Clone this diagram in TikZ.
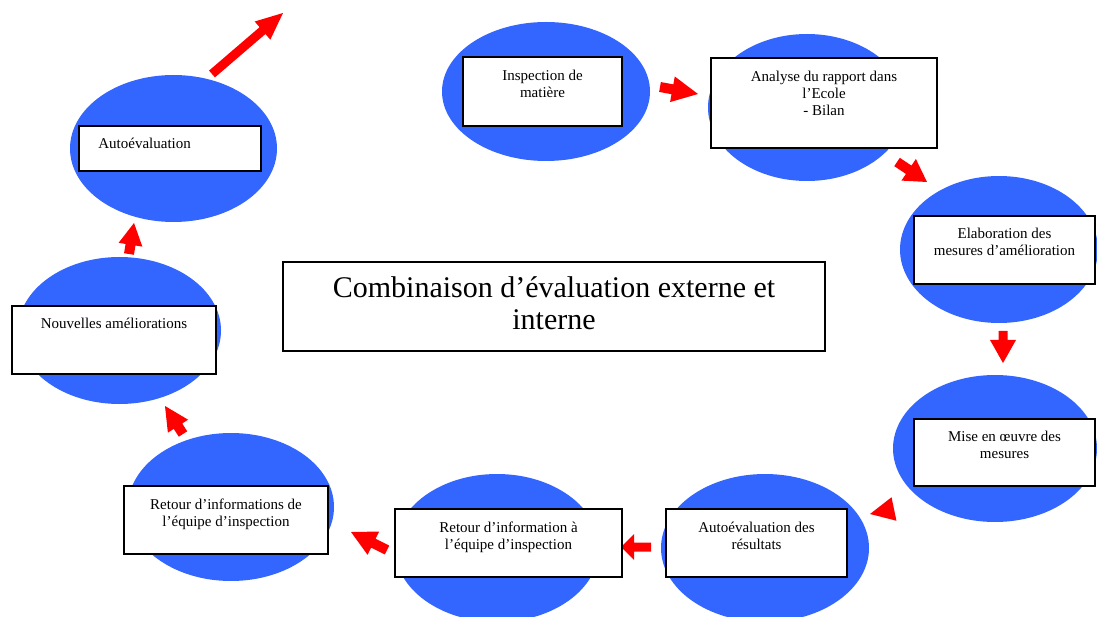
\documentclass[tikz,border=0pt]{standalone}
\usepackage{fontspec}
\setmainfont{Liberation Serif}
\usetikzlibrary{shapes.geometric}
\definecolor{ellblue}{RGB}{51,102,255}
\definecolor{arrowred}{RGB}{255,0,0}
% block arrow: x1 y1 (tail) x2 y2 (tip) shaft-half head-half head-length
\newcommand\blockarrow[7]{%
  \pgfmathsetmacro\baA{atan2(#4-#2,#3-#1)}%
  \pgfmathsetmacro\baT{veclen(#3-#1,#4-#2)}%
  \pgfmathsetmacro\baL{\baT-#7}%
  \begin{scope}[shift={(#1,#2)},rotate=-\baA]
    \fill[arrowred] (0,-#5) -- (\baL,-#5) -- (\baL,-#6) -- (\baT,0) -- (\baL,#6) -- (\baL,#5) -- (0,#5) -- cycle;
  \end{scope}}
\tikzset{
  ell/.style={ellipse, fill=ellblue, draw=none, inner sep=0pt},
  box/.style={rectangle, draw=black, line width=1.6pt, fill=white, inner sep=0pt},
  lbl/.style={inner sep=0pt, align=center, font=\fontsize{15}{17}\selectfont, text=black},
  biglbl/.style={inner sep=0pt, align=center, font=\fontsize{30}{32}\selectfont, text=black}
}
\begin{document}
\begin{tikzpicture}[x=1pt,y=-1pt]
\useasboundingbox (0,0) rectangle (1097,617);
% ellipses
\node[ell, minimum width=208, minimum height=139] (e1) at (546,91.5) {};
\node[ell, minimum width=198, minimum height=147] (e2) at (807,107.5) {};
\node[ell, minimum width=198, minimum height=147] (e3) at (999,249.5) {};
\node[ell, minimum width=204, minimum height=147] (e4) at (995,448.5) {};
\node[ell, minimum width=208, minimum height=148] (e5) at (765,548) {};
\node[ell, minimum width=204, minimum height=148] (e6) at (497,548) {};
\node[ell, minimum width=206, minimum height=148] (e7) at (231,507) {};
\node[ell, minimum width=203, minimum height=147] (e8) at (119.5,330.5) {};
\node[ell, minimum width=207, minimum height=147] (e9) at (173.5,148.5) {};
% arrows
\blockarrow{660}{87}{698}{94}{5}{13}{26}
\blockarrow{897}{162}{927}{182}{5}{13}{22}
\blockarrow{1003}{331}{1003}{363}{4.5}{13}{23}
\blockarrow{894}{509}{870}{514}{0}{12}{24.5}
\blockarrow{651}{547}{621}{547}{4.5}{13}{13}
\blockarrow{387}{550}{351}{532}{5}{13}{25}
\blockarrow{183}{434}{165}{406}{5}{12}{24}
\blockarrow{129}{254}{134}{223}{5}{12}{22}
\blockarrow{212}{74}{283}{13}{4.5}{12}{27}
% boxes
\node[box, minimum width=159, minimum height=69] (b1) at (542.5,91.5) {};
\node[box, minimum width=226, minimum height=90] (b2) at (824,103) {};
\node[box, minimum width=181, minimum height=68] (b3) at (1004.5,250) {};
\node[box, minimum width=181, minimum height=67] (b4) at (1004.5,452.5) {};
\node[box, minimum width=181, minimum height=68] (b5) at (756.5,543) {};
\node[box, minimum width=227, minimum height=68] (b6) at (508.5,543) {};
\node[box, minimum width=204, minimum height=68] (b7) at (226,520) {};
\node[box, minimum width=204, minimum height=68] (b8) at (114,340) {};
\node[box, minimum width=182, minimum height=45] (b9) at (170,148.5) {};
\node[box, line width=1.4pt, minimum width=542, minimum height=89] (c) at (554,306.5) {};
% labels
\node[lbl, anchor=north] (t1) at ([yshift=-12pt]b1.north) {\strut Inspection de\\matière};
\node[lbl, anchor=north] (t2) at ([yshift=-12pt]b2.north) {\strut Analyse du rapport dans\\l’Ecole\\ - Bilan};
\node[lbl, anchor=north] (t3) at ([yshift=-11pt]b3.north) {\strut Elaboration des\\mesures d’amélioration};
\node[lbl, anchor=north] (t4) at ([yshift=-11pt]b4.north) {\strut Mise en œuvre des\\mesures};
\node[lbl, anchor=north] (t5) at ([yshift=-12pt]b5.north) {\strut Autoévaluation des\\résultats};
\node[lbl, anchor=north] (t6) at ([yshift=-12pt]b6.north) {\strut Retour d’information à\\l’équipe d’inspection};
\node[lbl, anchor=north] (t7) at ([yshift=-12pt]b7.north) {\strut Retour d’informations de\\l’équipe d’inspection};
\node[lbl, anchor=north] (t8) at ([yshift=-11pt]b8.north) {\strut Nouvelles améliorations};
\node[lbl, anchor=north west, align=left] (t9) at ([xshift=20pt,yshift=-11pt]b9.north west) {\strut Autoévaluation};
\node[biglbl, anchor=north] (tc) at ([yshift=-13.5pt]c.north) {\strut Combinaison d’évaluation externe et\\interne};
\end{tikzpicture}
\end{document}
